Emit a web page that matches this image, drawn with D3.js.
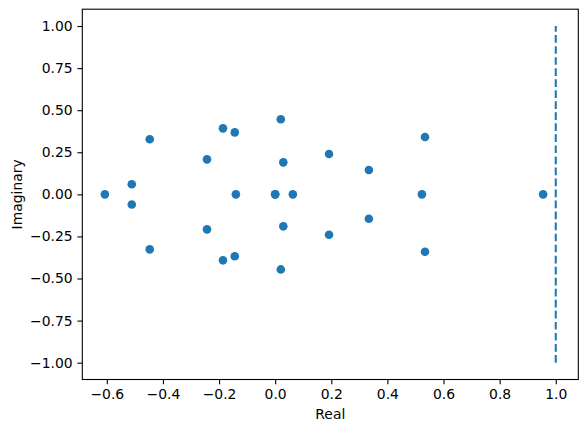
<!DOCTYPE html>
<html>
<head>
<meta charset="utf-8">
<script src="https://cdn.jsdelivr.net/npm/d3@7"></script>
<style>
  body { margin: 0; background: #fff; }
  svg { display: block; font-family: "DejaVu Sans", sans-serif; }
</style>
</head>
<body>
<svg width="587" height="432"></svg>
<script>
// eigenvalues
var realParts = [-0.607, -0.511, -0.511, -0.447, -0.447, -0.243, -0.243, -0.186, -0.186,
                 -0.144, -0.144, -0.140, 0.020, 0.020, 0.029, 0.029, 0.000, 0.000, 0.063,
                 0.192, 0.192, 0.334, 0.334, 0.534, 0.534, 0.523, 0.955];
var imagParts = [0.000, 0.060, -0.060, 0.327, -0.327, 0.208, -0.208, 0.392, -0.392,
                 0.368, -0.368, 0.000, 0.446, -0.446, 0.190, -0.190, 0.000, 0.000, 0.000,
                 0.240, -0.240, 0.145, -0.145, 0.341, -0.341, 0.000, 0.000];
// unit line at Re = 1
var lineX = [1, 1];
var lineY = [-1, 1];

var xTicks = [-0.6, -0.4, -0.2, 0.0, 0.2, 0.4, 0.6, 0.8, 1.0];
var yTicks = [-1.0, -0.75, -0.5, -0.25, 0.0, 0.25, 0.5, 0.75, 1.0];

var svg = d3.select("svg"),
    width = +svg.attr("width"),
    height = +svg.attr("height"),
    margin = {top: 9.2, right: 8.7, bottom: 52.5, left: 82.3};

var blue = "#1f77b4",
    fontSize = 13.9,
    tick = 4.86;

var points = realParts.map(function(r, i) { return {re: r, im: imagParts[i]}; });

// matplotlib style 5% margins
function padded(vals) {
  var lo = d3.min(vals), hi = d3.max(vals), p = (hi - lo) * 0.05;
  return [lo - p, hi + p];
}

var x = d3.scaleLinear()
    .domain(padded(realParts.concat(lineX)))
    .range([margin.left, width - margin.right]);

var y = d3.scaleLinear()
    .domain(padded(imagParts.concat(lineY)))
    .range([height - margin.bottom, margin.top]);

svg.append("g")
    .attr("transform", "translate(0," + (height - margin.bottom) + ")")
    .call(d3.axisBottom(x).tickValues(xTicks).tickFormat(d3.format(".1f"))
      .tickSize(tick).tickPadding(tick).tickSizeOuter(0))
    .call(function(g) {
      g.select(".domain").remove();
      g.selectAll("line").attr("stroke", "#000").attr("stroke-width", 1.1);
      g.selectAll("text").attr("font-size", fontSize).attr("font-family", "DejaVu Sans").attr("fill", "#000");
    });

svg.append("g")
    .attr("transform", "translate(" + margin.left + ",0)")
    .call(d3.axisLeft(y).tickValues(yTicks).tickFormat(d3.format(".2f"))
      .tickSize(tick).tickPadding(tick).tickSizeOuter(0))
    .call(function(g) {
      g.select(".domain").remove();
      g.selectAll("line").attr("stroke", "#000").attr("stroke-width", 1.1);
      g.selectAll("text").attr("font-size", fontSize).attr("font-family", "DejaVu Sans").attr("fill", "#000");
    });

svg.append("path")
    .datum(lineX.map(function(v, i) { return [v, lineY[i]]; }))
    .attr("fill", "none")
    .attr("stroke", blue)
    .attr("stroke-width", 2.08)
    .attr("stroke-dasharray", "7.7,3.33")
    .attr("d", d3.line()
        .x(function(d) { return x(d[0]); })
        .y(function(d) { return y(d[1]); }));

svg.append("g")
    .attr("fill", blue)
  .selectAll("circle")
  .data(points)
  .enter().append("circle")
    .attr("cx", function(d) { return x(d.re); })
    .attr("cy", function(d) { return y(d.im); })
    .attr("r", 4.3);

// spines
svg.append("rect")
    .attr("x", margin.left)
    .attr("y", margin.top)
    .attr("width", width - margin.left - margin.right)
    .attr("height", height - margin.top - margin.bottom)
    .attr("fill", "none")
    .attr("stroke", "#000")
    .attr("stroke-width", 1.1);

svg.append("text")
    .attr("x", (margin.left + width - margin.right) / 2)
    .attr("y", 419)
    .attr("text-anchor", "middle")
    .attr("font-size", fontSize)
    .text("Real");

svg.append("text")
    .attr("transform", "translate(22," + (margin.top + height - margin.bottom) / 2 + ") rotate(-90)")
    .attr("text-anchor", "middle")
    .attr("font-size", fontSize)
    .text("Imaginary");
</script>
</body>
</html>
